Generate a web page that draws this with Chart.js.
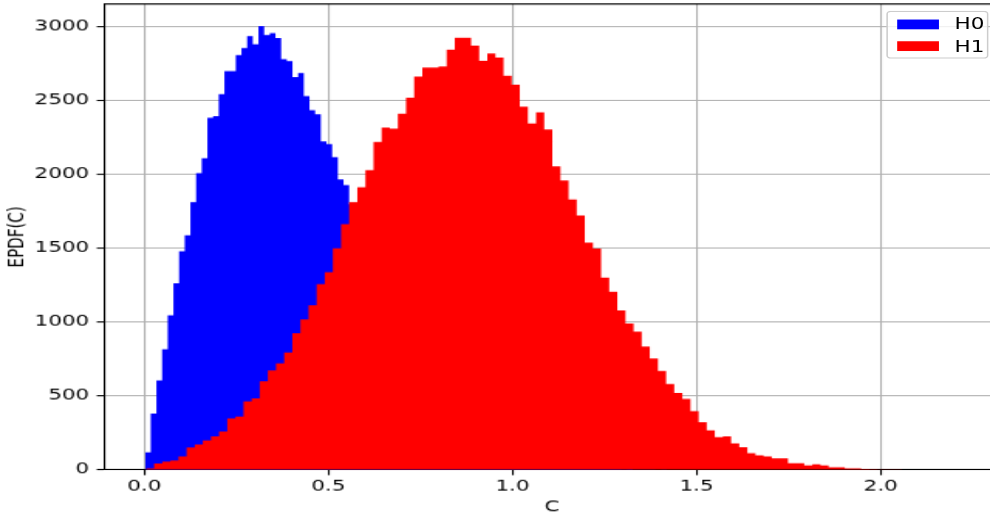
<!DOCTYPE html>
<html>
<head>
<meta charset="utf-8">
<script src="https://cdn.jsdelivr.net/npm/chart.js@4.4.1/dist/chart.umd.min.js"></script>
<style>
  html, body { margin: 0; padding: 0; background: #fff; overflow: hidden; width: 990px; height: 521px; }
  #fig { position: absolute; left: 0; top: 0; width: 646px; height: 480px; transform: scale(1.546875, 1.0854167); transform-origin: 0 0; }
  #legend { position: absolute; left: 572.8px; top: 10.1px; width: 65.9px; height: 44.3px; box-sizing: border-box;
            border: 1px solid #cccccc; border-radius: 2.8px; background: rgba(255,255,255,0.8);
            font-family: 'DejaVu Sans'; font-size: 13.9px; color: #000; }
  #legend .patch { position: absolute; left: 5.8px; width: 27.8px; height: 9.6px; }
  #legend .label { position: absolute; left: 43.3px; line-height: 14px; white-space: nowrap; }
</style>
</head>
<body>
<div id="fig">
  <canvas id="chart" width="646" height="480"></canvas>
  <div id="legend"></div>
</div>
<script>
// histogram counts, 100 bins each
const h0Counts = [
  117, 381, 605, 815, 1045, 1261, 1478, 1586, 1810, 2006,
  2107, 2380, 2392, 2541, 2696, 2696, 2805, 2852, 2933, 2879,
  3001, 2940, 2954, 2920, 2778, 2764, 2656, 2683, 2527, 2432,
  2405, 2222, 2202, 2114, 1965, 1925,
  // hidden behind H1 from here on, estimated
  1795, 1741, 1622, 1540, 1418, 1339, 1230, 1152, 1049, 981,
  889, 826, 741, 690, 612, 566, 502, 461, 404, 372,
  325, 297, 256, 235, 201, 184, 156, 142, 120, 109,
  91, 83, 68, 61, 50, 46, 37, 34, 28, 24,
  19, 17, 14, 12, 9, 9, 7, 6, 4, 5,
  3, 3, 2, 2, 1, 2, 1, 1, 0, 1,
  0, 0, 1, 1
];
const h1Counts = [
  9, 43, 56, 63, 90, 151, 171, 199, 226, 259,
  347, 361, 463, 483, 598, 672, 720, 794, 923, 1018,
  1112, 1255, 1336, 1498, 1661, 1810, 1911, 2026, 2217, 2314,
  2307, 2409, 2517, 2659, 2720, 2720, 2727, 2842, 2923, 2923,
  2869, 2767, 2815, 2788, 2666, 2605, 2457, 2342, 2418, 2302,
  2052, 1957, 1829, 1720, 1537, 1497, 1300, 1205, 1077, 989,
  935, 833, 752, 669, 580, 520, 479, 396, 321, 267,
  220, 227, 179, 152, 112, 98, 91, 78, 78, 44,
  44, 30, 37, 30, 17, 17, 10, 10, 5, 4,
  3, 2, 2, 1, 1, 1, 0, 1, 0, 1
];
const h0BinStart = 0.002;
const h0BinWidth = 0.0154;
const h1BinStart = 0.0046;
const h1BinWidth = 0.02207;

const seriesLabels = ['H0', 'H1'];
const seriesColors = ['#0000ff', '#ff0000'];
const xTicks = [0, 0.5, 1.0, 1.5, 2.0];
const yTicks = [0, 500, 1000, 1500, 2000, 2500, 3000];

function histPoints(counts, start, width) {
    let pts = counts.map((c, k) => ({ x: start + k * width, y: c }));
    pts.push({ x: start + counts.length * width, y: 0 });
    return pts;
}

// matplotlib style autoscale: 5% margin on x, 5% headroom on y
let dataMin = Math.min(h0BinStart, h1BinStart);
let dataMax = Math.max(h0BinStart + h0Counts.length * h0BinWidth, h1BinStart + h1Counts.length * h1BinWidth);
let xMin = dataMin - 0.05 * (dataMax - dataMin);
let xMax = dataMax + 0.05 * (dataMax - dataMin);
let yMax = 1.05 * Math.max(...h0Counts, ...h1Counts);

const font = { family: 'DejaVu Sans', size: 13.9 };

const frame = {
    id: 'frame',
    afterDraw(chart) {
        const { ctx, chartArea } = chart;
        ctx.save();
        ctx.strokeStyle = '#000';
        ctx.lineWidth = 1.1;
        ctx.beginPath();
        ctx.moveTo(chartArea.left, chartArea.top);
        ctx.lineTo(chartArea.right, chartArea.top);
        ctx.lineTo(chartArea.right, chartArea.bottom);
        ctx.stroke();
        ctx.restore();
    }
};

let chart = new Chart(document.getElementById('chart'), {
    type: 'line',
    data: {
        datasets: [{
            label: seriesLabels[0],
            data: histPoints(h0Counts, h0BinStart, h0BinWidth),
            stepped: true,
            fill: 'origin',
            backgroundColor: seriesColors[0],
            borderWidth: 0,
            pointRadius: 0,
            order: 1
        }, {
            label: seriesLabels[1],
            data: histPoints(h1Counts, h1BinStart, h1BinWidth),
            stepped: true,
            fill: 'origin',
            backgroundColor: seriesColors[1],
            borderWidth: 0,
            pointRadius: 0,
            order: 0
        }]
    },
    options: {
        responsive: false,
        animation: false,
        devicePixelRatio: 1,
        layout: { padding: { top: 3.6, right: 0, bottom: 0, left: 0 } },
        plugins: { legend: { display: false }, tooltip: { enabled: false } },
        scales: {
            x: {
                type: 'linear',
                min: xMin,
                max: xMax,
                z: 1,
                afterBuildTicks: axis => { axis.ticks = xTicks.map(v => ({ value: v })); },
                afterFit: axis => {
                    axis.height = 47.2;
                    axis.paddingLeft = 0;
                    axis.paddingRight = 0;
                },
                ticks: { callback: v => v.toFixed(1), color: '#000', font: font, padding: 2.4, maxRotation: 0, autoSkip: false },
                grid: { color: '#b0b0b0', lineWidth: 1.1, tickColor: '#000', tickLength: 4.9, tickWidth: 1.1 },
                border: { color: '#000', width: 1.1 },
                title: { display: true, text: 'C', color: '#000', font: font, padding: { top: 0, bottom: 4 } }
            },
            y: {
                type: 'linear',
                min: 0,
                max: yMax,
                z: 1,
                afterBuildTicks: axis => { axis.ticks = yTicks.map(v => ({ value: v })); },
                afterFit: axis => {
                    axis.width = 67.45;
                    axis.paddingTop = 0;
                    axis.paddingBottom = 0;
                },
                ticks: { callback: v => String(v), color: '#000', font: font, padding: 4.9, autoSkip: false },
                grid: { color: '#b0b0b0', lineWidth: 1.1, tickColor: '#000', tickLength: 4.9, tickWidth: 1.1 },
                border: { color: '#000', width: 1.1 },
                title: { display: true, text: 'EPDF(C)', color: '#000', font: font, padding: { top: 3.3, bottom: 0 } }
            }
        }
    },
    plugins: [frame]
});

// legend box like matplotlib's upper right one
let legend = document.getElementById('legend');
seriesLabels.forEach((name, i) => {
    let patch = document.createElement('div');
    patch.className = 'patch';
    patch.style.top = (6.5 + i * 20.3) + 'px';
    patch.style.background = seriesColors[i];
    legend.appendChild(patch);
    let label = document.createElement('div');
    label.className = 'label';
    label.style.top = (4.3 + i * 20.3) + 'px';
    label.textContent = name;
    legend.appendChild(label);
});
</script>
</body>
</html>
